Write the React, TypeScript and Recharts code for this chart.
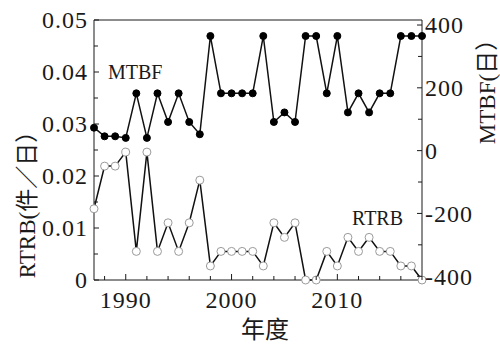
import React from 'react';
import { ComposedChart, Line, XAxis, YAxis, ReferenceLine, Customized } from 'recharts';

const years = [1987, 1988, 1989, 1990, 1991, 1992, 1993, 1994, 1995, 1996, 1997, 1998, 1999, 2000, 2001, 2002, 2003, 2004, 2005, 2006, 2007, 2008, 2009, 2010, 2011, 2012, 2013, 2014, 2015, 2016, 2017, 2018];
const mtbf = [73, 45.6, 45.6, 40.6, 182.5, 40.6, 182.5, 91.25, 182.5, 91.25, 52.1, 365, 182.5, 182.5, 182.5, 182.5, 365, 91.25, 121.7, 91.25, 365, 365, 182.5, 365, 121.7, 182.5, 121.7, 182.5, 182.5, 365, 365, 365];
const rtrb = [0.0137, 0.0219, 0.0219, 0.0246, 0.0055, 0.0246, 0.0055, 0.011, 0.0055, 0.011, 0.0192, 0.0027, 0.0055, 0.0055, 0.0055, 0.0055, 0.0027, 0.011, 0.0082, 0.011, 0, 0, 0.0055, 0.0027, 0.0082, 0.0055, 0.0082, 0.0055, 0.0055, 0.0027, 0.0027, 0];

const xTicks = [1988, 1990, 1992, 1994, 1996, 1998, 2000, 2002, 2004, 2006, 2008, 2010, 2012, 2014, 2016, 2018];
const xLabels = [1990, 2000, 2010];
const leftTicks = [0, 0.005, 0.01, 0.015, 0.02, 0.025, 0.03, 0.035, 0.04, 0.045, 0.05];
const leftLabels = ['0', '0.01', '0.02', '0.03', '0.04', '0.05'];
const rightTicks = [-400, -300, -200, -100, 0, 100, 200, 300, 400];
const rightLabels = [-400, -200, 0, 200, 400];

const data = years.map((y, i) => ({ year: y, mtbf: mtbf[i], rtrb: rtrb[i] }));

const SERIF = "'Liberation Serif', 'Times New Roman', 'Noto Sans CJK SC', serif";
const INK = '#1a1a1a';

const LeftTick = (props: any) => {
  const { x, y, payload } = props;
  const v = payload.value;
  const label = leftLabels.find((l) => Math.abs(parseFloat(l) - v) < 1e-9);
  const major = label !== undefined;
  return (
    <g>
      <line x1={x} x2={x + (major ? 5 : 4)} y1={y} y2={y} stroke={INK} strokeWidth={1} />
      {major && (
        <text x={x - 6} y={y} dy="0.35em" textAnchor="end" fontFamily={SERIF} fontSize={24} fill={INK} letterSpacing={1}>
          {label}
        </text>
      )}
    </g>
  );
};

const RightTick = (props: any) => {
  const { x, y, payload } = props;
  const v = payload.value;
  const major = rightLabels.includes(v);
  return (
    <g>
      <line x1={x} x2={x - (major ? 5 : 4)} y1={y} y2={y} stroke={INK} strokeWidth={1} />
      {major && (
        <text x={x + 3} y={y} dy="0.35em" textAnchor="start" fontFamily={SERIF} fontSize={24} fill={INK} letterSpacing={1}>
          {String(v)}
        </text>
      )}
    </g>
  );
};

const BottomTick = (props: any) => {
  const { x, y, payload } = props;
  const v = payload.value;
  const major = xLabels.includes(v);
  return (
    <g>
      <line x1={x} x2={x} y1={y} y2={y - (major ? 6 : 4)} stroke={INK} strokeWidth={1} />
      {major && (
        <text x={x} y={y + 28} textAnchor="middle" fontFamily={SERIF} fontSize={24} fill={INK} letterSpacing={1}>
          {String(v)}
        </text>
      )}
    </g>
  );
};

const Texts = () => (
  <g>
    <text x={108} y={79} fontFamily={SERIF} fontSize={20} fill={INK}>MTBF</text>
    <text x={352} y={225} fontFamily={SERIF} fontSize={20} fill={INK}>RTRB</text>
    <text x={265} y={338} textAnchor="middle" fontFamily="'Noto Sans CJK SC', sans-serif" fontSize={24} fill={INK}>年度</text>
    <text x={35} y={199} textAnchor="middle" transform="rotate(-90, 35, 199)" fontFamily={SERIF} fontSize={23} fill={INK}>RTRB(件／日）</text>
    <text x={495} y={86} textAnchor="middle" transform="rotate(-90, 495, 86)" fontFamily={SERIF} fontSize={23} fill={INK}>MTBF(日）</text>
  </g>
);

export default function App() {
  return (
    <div style={{ position: 'absolute', left: 0, top: 0, width: 500, height: 346, background: '#fff' }}>
      <ComposedChart width={500} height={346} data={data} margin={{ top: 20, right: 0, bottom: 0, left: 0 }}>
        <XAxis
          dataKey="year"
          type="number"
          domain={[1987, 2018]}
          ticks={xTicks}
          interval={0}
          height={66}
          tickSize={0}
          tickMargin={0}
          tickLine={false}
          axisLine={{ stroke: INK, strokeWidth: 1 }}
          tick={<BottomTick />}
        />
        <YAxis
          yAxisId="l"
          orientation="left"
          type="number"
          domain={[0, 0.05]}
          ticks={leftTicks}
          interval={0}
          width={94}
          tickSize={0}
          tickMargin={0}
          tickLine={false}
          axisLine={{ stroke: INK, strokeWidth: 1 }}
          tick={<LeftTick />}
        />
        <YAxis
          yAxisId="r"
          orientation="right"
          type="number"
          domain={[-412, 416]}
          allowDataOverflow
          ticks={rightTicks}
          interval={0}
          width={78}
          tickSize={0}
          tickMargin={0}
          tickLine={false}
          axisLine={{ stroke: INK, strokeWidth: 1 }}
          tick={<RightTick />}
        />
        <ReferenceLine yAxisId="l" y={0.05} stroke={INK} strokeWidth={1} />
        <Line
          yAxisId="r"
          dataKey="mtbf"
          type="linear"
          stroke="#111"
          strokeWidth={1.5}
          dot={{ r: 3.5, fill: '#000', stroke: '#000', strokeWidth: 1 }}
          isAnimationActive={false}
        />
        <Line
          yAxisId="l"
          dataKey="rtrb"
          type="linear"
          stroke="#111"
          strokeWidth={1.5}
          dot={{ r: 4, fill: '#fff', stroke: '#9a9a9a', strokeWidth: 1 }}
          isAnimationActive={false}
        />
        <Customized component={Texts} />
      </ComposedChart>
    </div>
  );
}
